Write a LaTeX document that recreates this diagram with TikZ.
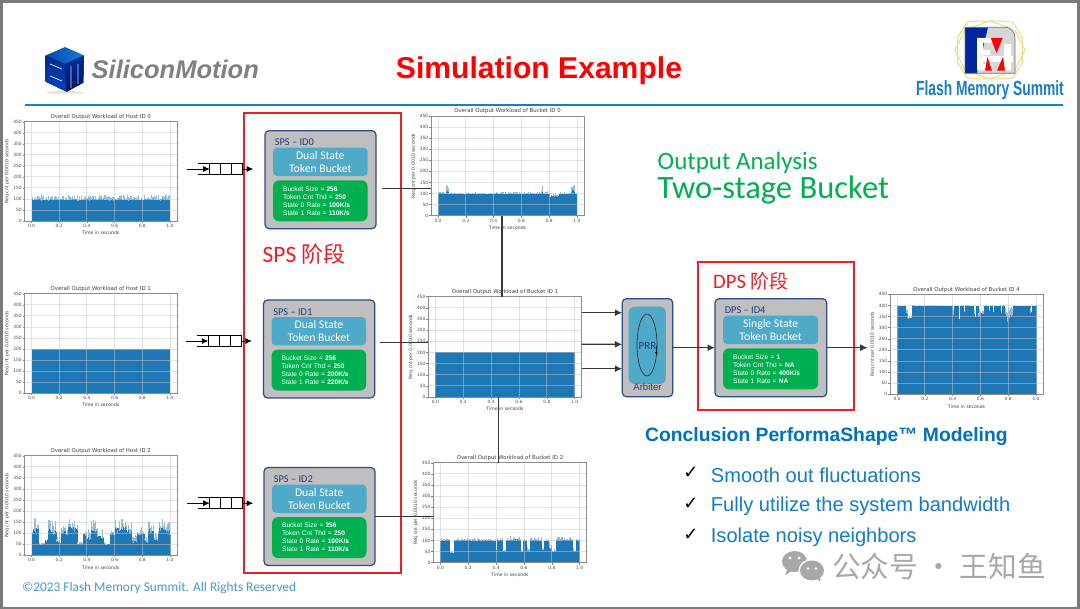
\documentclass[tikz,border=0pt]{standalone}
\usepackage{fontspec}
\usetikzlibrary{arrows.meta,calc,shapes.geometric}
\setmainfont{Liberation Sans}
\newfontfamily\calfont{Carlito}
\newfontfamily\cjkfont{Noto Sans CJK SC}
\newfontfamily\djfont{DejaVu Sans}
\definecolor{msblue}{HTML}{0070C0}
\definecolor{barblue}{HTML}{1F77B4}
\definecolor{barlight}{HTML}{93BCDA}
\definecolor{boxgray}{HTML}{BFBFBF}
\definecolor{boxedge}{HTML}{2F4B86}
\definecolor{bucketblue}{HTML}{4FA9C9}
\definecolor{okgreen}{HTML}{00B050}
\definecolor{redbox}{HTML}{EE1C25}
\definecolor{navytext}{HTML}{1F3A7A}
\definecolor{wm}{HTML}{A8A8A8}
\definecolor{octa}{HTML}{E9DD82}
\tikzset{
  framebox/.style={draw=#1,line width=1.7pt,inner sep=0pt,outer sep=0pt},
  bucketouter/.style={draw=boxedge,fill=boxgray,line width=1.2pt,rounded corners=4pt,inner sep=0pt,outer sep=0pt},
  bucketinner/.style={fill=bucketblue,rounded corners=4pt,inner sep=0pt,outer sep=0pt,text=white,align=center,
    font=\calfont\fontsize{11.7}{13.4}\selectfont},
  greenbox/.style={fill=okgreen,rounded corners=6pt,inner sep=0pt,outer sep=0pt,text=white,align=left,
    font=\fontsize{6.6}{8}\selectfont},
  namelabel/.style={anchor=west,inner sep=0pt,text=navytext,font=\calfont\fontsize{10.4}{12}\selectfont},
  conn/.style={draw=black!78,line width=1.3pt},
  connarrow/.style={conn,-{Latex[length=7.5pt,width=7pt]}},
  qarrow/.style={draw=black,line width=.8pt,-{Latex[length=6.5pt,width=6pt]}},
  qcell/.style={draw=black,line width=.8pt,inner sep=0pt,outer sep=0pt},
  axframe/.style={draw=black!45,line width=.8pt,inner sep=0pt,outer sep=0pt},
  gridln/.style={draw=black!22,line width=.8pt,opacity=.5},
  ticktxt/.style={inner sep=0pt,text=black!70,font=\djfont\fontsize{4.4}{5}\selectfont},
  axtxt/.style={inner sep=0pt,text=black!75,font=\djfont\fontsize{4.6}{5}\selectfont},
  charttitle/.style={inner sep=0pt,text=black!75,font=\djfont\fontsize{5.4}{6}\selectfont},
  bullettxt/.style={anchor=west,inner sep=0pt,text=msblue!92!white,font=\fontsize{20.1}{22}\selectfont},
  checktxt/.style={inner sep=0pt,text=black,font=\djfont\fontsize{18}{19}\selectfont},
}
% name, xl, xr, ytop, ybot, title, seed, data
\newcommand\chartplot[8]{%
  \pgfmathsetmacro\ux{(#3-#2-14)/1000}%
  \pgfmathsetmacro\uy{(#5-#4)/450}%
  \pgfmathsetseed{#7}%
  \begin{scope}[shift={({#2+7},#5)},x=\ux pt,y=\uy pt]
    \foreach \a/\b/\l/\n in {#8}{%
      \pgfmathtruncatemacro\nx{\a+5}%
      \pgfmathtruncatemacro\en{\b-1}%
      \foreach \c in {\a,\nx,...,\en}{%
        \pgfmathsetmacro\va{\l+rnd*\n}%
        \pgfmathsetmacro\vb{\l+rnd*\n*.35}%
        \fill[barlight] (\c,0) rectangle ({\c+7},\va);
        \fill[barblue] (\c,0) rectangle ({\c+7},\vb);
      }%
    }
    \foreach \t in {0,50,...,450}{%
      \draw[gridln] ([xshift=-7pt]0,\t) -- ([xshift=7pt]1000,\t);
      \draw[draw=black!50,line width=.4pt] ([xshift=-7pt]0,\t) -- ([xshift=-9pt]0,\t);
      \node[ticktxt,anchor=east] at ([xshift=-9.6pt]0,\t) {\t};
    }
    \foreach \t/\lab in {0/0.0,200/0.2,400/0.4,600/0.6,800/0.8,1000/1.0}{%
      \draw[gridln] (\t,0) -- (\t,450);
      \draw[draw=black!50,line width=.4pt] (\t,0) -- ([yshift=-2pt]\t,0);
      \node[ticktxt] at ([yshift=-5pt]\t,0) {\lab};
    }
  \end{scope}
  \node[axframe,minimum width={(#3-#2)*1pt},minimum height={(#5-#4)*1pt}] (#1) at ({(#2+#3)/2},{(#4+#5)/2}) {};
  \node[charttitle] at ({(#2+#3)/2},{#4-4.6}) {#6};
  \node[axtxt] at ({(#2+#3)/2},{#5+12}) {Time in seconds};
  \node[axtxt,rotate=90] at ({#2-17.5},{(#4+#5)/2}) {Req cnt per 0.0010 seconds};
}
% name, x0, y0, x1, y1, label, bucket type, green text
\newcommand\bucketbox[8]{%
  \node[bucketouter,minimum width={(#4-#2)*1pt},minimum height={(#5-#3)*1pt}] (#1) at ({(#2+#4)/2},{(#3+#5)/2}) {};
  \node[namelabel] (#1name) at ({#2+9.6},{#3+11.7}) {#6};
  \node[bucketinner,minimum width={(#4-#2-16.6)*1pt},minimum height=28.3pt] (#1type) at ({(#2+#4)/2-.2},{#3+31.2}) {#7};
  \node[greenbox,minimum width={(#4-#2-16.6)*1pt},minimum height=41pt,text width={(#4-#2-36.6)*1pt}] (#1param) at ({(#2+#4)/2-.2},{#3+70.1}) {#8};
}
% name, cell x0, ytop, ybot
\newcommand\queuebox[4]{%
  \draw[qcell] ({#2-11.7},#3) -- (#2,#3) ({#2-11.7},#4) -- (#2,#4);
  \foreach \k in {0,1,2}{%
    \node[qcell,minimum width=11pt,minimum height={(#4-#3)*1pt}] (#1c\k) at ({#2+5.5+\k*11},{(#3+#4)/2}) {};
  }
  \coordinate (#1in) at ({#2-22.5},{(#3+#4)/2});
  \coordinate (#1out) at ({#2+43.5},{(#3+#4)/2});
  \draw[qarrow] (#1in) -- (#1c0.west);
  \draw[qarrow] (#1c2.east) -- (#1out);
}
\begin{document}
\begin{tikzpicture}[x=1pt,y=-1pt]
\useasboundingbox (0,0) rectangle (1080,609);
\fill[black!52] (0,0) rectangle (1080,609);
\fill[white] (3,3) rectangle (1076.7,606.5);

% ---- header rule
\draw[msblue!90!white,line width=2.4pt] (25,105) -- (1063,105);
\node[inner sep=0pt,text=red,font=\bfseries\fontsize{30.1}{36}\selectfont] (title) at (539,70.5) {Simulation Example};

% ---- SiliconMotion logo
\shade[top color=black!14,bottom color=white] (65,93) ellipse (19 and 2);
\fill[left color=blue!60!cyan!70!black,right color=blue!50!cyan!85!black!90!white] (65,47.3) -- (84,55.7) -- (65,64) -- (45.7,55.7) -- cycle;
\fill[top color=blue!70!cyan!55!black,bottom color=blue!65!cyan!75!black] (45.7,55.7) -- (65,64) -- (66.7,91.7) -- (45.7,81.7) -- cycle;
\fill[top color=blue!70!cyan!60!black,bottom color=blue!80!cyan!38!black] (65,64) -- (84,55.7) -- (83.3,82.7) -- (66.7,91.7) -- cycle;
\draw[white!85!blue,line width=.8pt] (50,64) -- (62,69) (50,76) -- (62,81) (71,88) -- (71,66) (78,84) -- (78,64);
\node[anchor=west,inner sep=0pt,text=black!50,font=\bfseries\itshape\fontsize{25.5}{30}\selectfont] (smtext) at (91.5,69) {SiliconMotion};

% ---- Flash Memory Summit logo
\draw[octa,line width=1pt] (1022.3,37.5) -- (1012.9,22.1) -- (1002.6,21.2) -- (977.4,21.2) -- (967.1,22.1) -- (957.7,37.5) -- (957.7,62.5) -- (967.1,77.9) -- (977.4,78.8) -- (1002.6,78.8) -- (1012.9,77.9) -- (1022.3,62.5) -- cycle;
\draw[octa,line width=1pt] (1025,50) -- (1014.7,29.5) -- (990,21) -- (965.3,29.5) -- (955,50) -- (965.3,70.5) -- (990,79) -- (1014.7,70.5) -- cycle;
\fill[white] (965,27.3) rectangle (1015,73.3);
\fill[black!16] (965,27.3) -- (1005,27.3) .. controls (1012,27.3) and (1015,33) .. (1015,38) -- (1015,73.3) -- (965,73.3) -- cycle;
\fill[blue!55!black!85!cyan] (965,27.3) -- (988,27.3) -- (977,73.3) -- (965,73.3) -- cycle;
\fill[white] (977,38) rectangle (983,70.5) (977,38) rectangle (992,43) (977,50) rectangle (990,55);
\fill[white] (983,56) rectangle (1013,62) (1004,44) rectangle (1011,70.5) (983,64) rectangle (992,70.5);
\fill[red] (990.7,38) -- (1002.7,38) -- (996.5,53) -- cycle;
\fill[red] (985,70.7) -- (992,70.7) -- (987.5,56.7) -- cycle;
\fill[red] (997,70.7) -- (1005,70.7) -- (1003,56.7) -- cycle;
\draw[black!55,line width=.7pt] (965,73.3) -- (965,27.3) -- (1005,27.3) .. controls (1012,27.3) and (1015,33) .. (1015,38) -- (1015,73.3) -- cycle;
\node[inner sep=0pt,text=msblue!90!white,xscale=.675,font=\bfseries\fontsize{20.5}{22}\selectfont] (fmstext) at (990,90) {Flash Memory Summit};

% ---- red stage boxes
\node[framebox=redbox,minimum width=157pt,minimum height=460pt] (spsstage) at (322.2,343.2) {};
\node[framebox=redbox,minimum width=155.7pt,minimum height=147.4pt] (dpsstage) at (775.8,336) {};
\node[anchor=west,inner sep=0pt,text=redbox,font=\calfont\fontsize{23.5}{24}\selectfont] (spstxt) at (262.5,254) {SPS {\cjkfont\fontsize{22}{24}\selectfont 阶段}};
\node[anchor=west,inner sep=0pt,text=redbox,font=\calfont\fontsize{20.6}{22}\selectfont] (dpstxt) at (713,281.5) {DPS {\cjkfont\fontsize{19}{22}\selectfont 阶段}};

% ---- host charts
\chartplot{host0}{24.5}{177}{121.7}{221}{Overall Output Workload of Host ID 0}{11}{0/1000/92/26}
\chartplot{host1}{24.5}{177}{293.8}{393.2}{Overall Output Workload of Host ID 1}{12}{0/1000/200/0}
\chartplot{host2}{24.5}{177}{455.7}{555.3}{Overall Output Workload of Host ID 2}{13}{0/10/95/25,10/50/100/70,50/100/48/8,100/120/60/25,120/155/100/60,155/180/90/70,180/215/55/50,215/250/100/45,250/265/90/25,265/330/105/65,330/370/50/10,370/395/85/60,395/430/70/50,430/470/100/60,470/520/70/55,520/565/45/25,565/600/90/30,600/645/100/65,645/690/110/55,690/725/100/55,725/765/55/40,765/815/90/40,815/840/55/35,840/885/100/55,885/915/60/40,915/960/100/75,960/995/100/50,995/1000/90/10}

% ---- bucket charts
\chartplot{bucket0}{431}{584}{116}{215.7}{Overall Output Workload of Bucket ID 0}{21}{0/60/97/14,60/72/100/48,72/420/96/9,420/430/98/20,430/740/96/13,740/752/98/38,752/800/96/14,800/870/85/16,870/955/96/10,955/985/100/48,985/1000/95/10}
\chartplot{bucket1}{428.3}{581.7}{296.7}{397}{Overall Output Workload of Bucket ID 1}{22}{0/1000/200/0}
\chartplot{bucket2}{433.3}{586.7}{462.7}{562.7}{Overall Output Workload of Bucket ID 2}{23}{0/70/98/12,70/100/42/12,100/395/98/12,395/410/50/40,410/450/98/14,450/470/45/30,470/580/98/22,580/595/45/30,595/620/95/15,620/640/45/30,640/730/98/18,730/745/55/40,745/780/95/10,780/800/55/40,800/830/45/20,830/950/98/20,950/972/42/40,972/1000/98/12}
\chartplot{bucket4}{890}{1043}{294.3}{394.3}{Overall Output Workload of Bucket ID 4}{24}{0/65/398/2,65/75/355/40,75/105/340/15,105/400/398/2,400/408/350/45,408/440/398/2,440/455/335/60,455/480/398/2,480/490/365/30,490/555/398/2,555/570/345/50,570/585/398/2,585/605/345/50,605/625/350/45,625/660/398/2,660/672/375/20,672/690/398/2,690/700/360/35,700/745/398/2,745/755/365/30,755/775/398/2,775/790/350/45,790/815/325/70,815/835/350/45,835/960/398/2,960/972/360/35,972/1000/398/2}

% ---- queues
\queuebox{q0}{209.7}{163.3}{174.7}
\queuebox{q1}{208.3}{335.3}{346.7}
\queuebox{q2}{209.7}{497.7}{508.7}

% ---- token buckets
\bucketbox{sps0}{265}{130.7}{376}{228.7}{SPS – ID0}{Dual State\\Token Bucket}{Bucket Size = \textbf{256}\\Token Cnt Thd = \textbf{250}\\State 0 Rate = \textbf{100K/s}\\State 1 Rate = \textbf{110K/s}}
\bucketbox{sps1}{263.5}{300}{374.7}{398}{SPS – ID1}{Dual State\\Token Bucket}{Bucket Size = \textbf{256}\\Token Cnt Thd = \textbf{250}\\State 0 Rate = \textbf{200K/s}\\State 1 Rate = \textbf{220K/s}}
\bucketbox{sps2}{264}{467.5}{375}{565.5}{SPS – ID2}{Dual State\\Token Bucket}{Bucket Size = \textbf{256}\\Token Cnt Thd = \textbf{250}\\State 0 Rate = \textbf{100K/s}\\State 1 Rate = \textbf{110K/s}}
\bucketbox{dps4}{715}{298.7}{826.7}{396.7}{DPS – ID4}{Single State\\Token Bucket}{Bucket Size = \textbf{1}\\Token Cnt Thd = \textbf{NA}\\State 0 Rate = \textbf{400K/s}\\State 1 Rate = \textbf{NA}}

% ---- arbiter
\node[bucketouter,minimum width=50.4pt,minimum height=98pt] (arb) at (647.5,347.7) {};
\node[fill=bucketblue,rounded corners=6pt,inner sep=0pt,minimum width=37.3pt,minimum height=77.3pt] (arbin) at (647.3,345.3) {};
\node[ellipse,draw=black!80,line width=.7pt,inner sep=0pt,minimum width=20pt,minimum height=62pt] (prrloop) at (647,345) {};
\node[inner sep=0pt,text=navytext,font=\calfont\fontsize{11}{12}\selectfont] (prr) at (647.5,345.5) {PRR};
\node[inner sep=0pt,text=navytext,font=\fontsize{9.6}{11}\selectfont] (arbtxt) at (647.5,387) {Arbiter};
\draw[-{Latex[length=3pt,width=2.6pt]},draw=black,line width=.5pt] (656.3,346) -- (656.4,355);

% ---- connectors
\coordinate (s0start) at (381.7,188.7);
\coordinate (s0end) at (431,188.7);
\draw[conn] (s0start) -- (s0end);
\coordinate (s1start) at (380,342.5);
\coordinate (s1end) at (428.3,342.5);
\draw[conn] (s1start) -- (s1end);
\coordinate (s2end) at (433.3,516.7);
\draw[conn] (sps2.east |- s2end) -- (s2end);
\draw[conn] ([xshift=-5.5pt]bucket0.south) -- ([xshift=-3pt]bucket1.north);
\draw[conn] ([xshift=-6.7pt]bucket1.south) -- ([xshift=-11.7pt]bucket2.north);
\draw[connarrow] ([yshift=34.15pt]bucket1.east) -- ([yshift=35pt]arb.west);
\draw[connarrow] ([yshift=2.55pt]bucket1.east) -- ([yshift=3.4pt]arb.west);
\draw[connarrow] ([yshift=-21.85pt]bucket1.east) -- ([yshift=-21pt]arb.west);
\draw[connarrow] (arb.east) -- (dps4.west);
\coordinate (dpsout) at (867.7,347.7);
\draw[connarrow] (dps4.east) -- (dpsout);

% ---- texts
\node[anchor=west,inner sep=0pt,text=okgreen,font=\calfont\fontsize{25}{28}\selectfont] (oa) at (657.5,163) {Output Analysis};
\node[anchor=west,inner sep=0pt,text=okgreen,font=\calfont\fontsize{32.6}{36}\selectfont] (tsb) at (657.5,189.5) {Two-stage Bucket};
\node[anchor=west,inner sep=0pt,text=msblue,font=\bfseries\fontsize{19.3}{22}\selectfont] (concl) at (645,437) {Conclusion PerformaShape™ Modeling};
\node[checktxt] (ck1) at (691,473) {✓};
\node[checktxt] (ck2) at (691,504) {✓};
\node[checktxt] (ck3) at (691,535) {✓};
\node[bullettxt] (b1) at (710.7,475) {Smooth out fluctuations};
\node[bullettxt] (b2) at (710.7,506) {Fully utilize the system bandwidth};
\node[bullettxt] (b3) at (710.7,537) {Isolate noisy neighbors};
\node[anchor=west,inner sep=0pt,text=msblue!72!white,font=\calfont\fontsize{13.35}{15}\selectfont] (copyr) at (22,588) {©2023 Flash Memory Summit. All Rights Reserved};

% ---- watermark
\fill[wm] (794.5,561.5) ellipse (12.5 and 10.5);
\fill[wm] (787,570) -- (785,575) -- (792,571) -- cycle;
\fill[white] (812,570.5) ellipse (13.5 and 11.5);
\fill[wm] (812,570.5) ellipse (12 and 10);
\fill[wm] (817,578) -- (820,582) -- (820,577) -- cycle;
\fill[white] (790,558) circle (1.6) (799,558) circle (1.6) (808,568.5) circle (1.4) (816,568.5) circle (1.4);
\node[anchor=west,inner sep=0pt,text=wm,font=\cjkfont\fontsize{28.7}{32}\selectfont] (wmtxt) at (832,567) {公众号 · 王知鱼};
\end{tikzpicture}
\end{document}
